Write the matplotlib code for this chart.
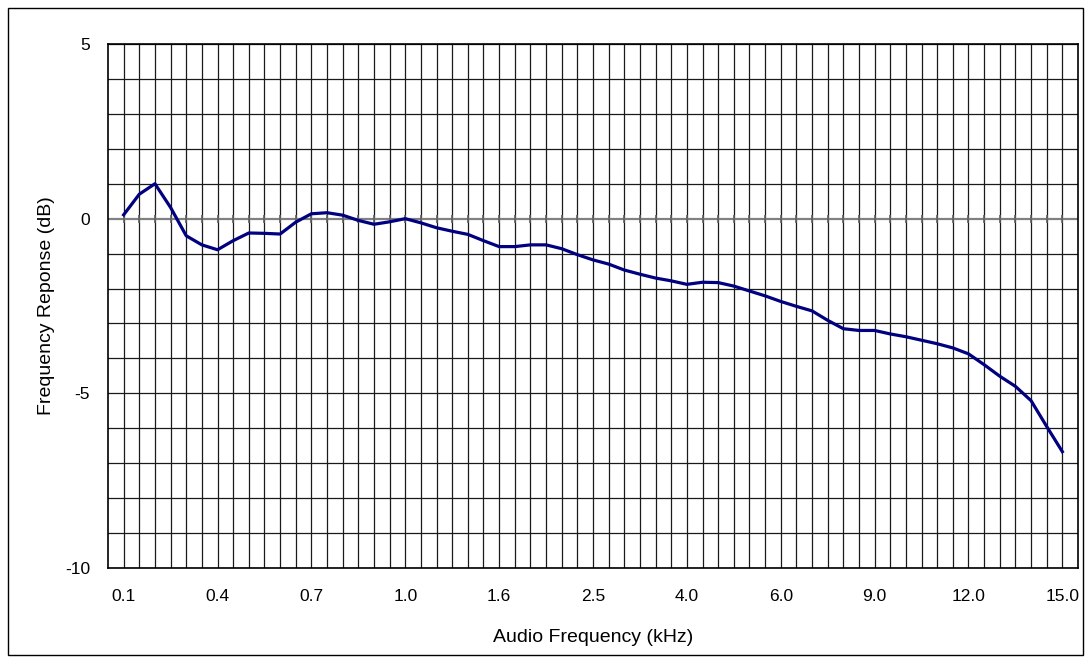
import matplotlib
matplotlib.use("Agg")
import matplotlib.pyplot as plt
from matplotlib.patches import Rectangle
from matplotlib.ticker import MultipleLocator, FixedLocator

plt.rcParams['font.family'] = ['Liberation Sans', 'DejaVu Sans']
plt.rcParams['axes.unicode_minus'] = False

# frequency points (kHz), categorical axis, label every 6th point
freq_khz = [0.10, 0.15, 0.20, 0.25, 0.30, 0.35, 0.40,
            0.45, 0.50, 0.55, 0.60, 0.65, 0.70,
            0.75, 0.80, 0.85, 0.90, 0.95, 1.00,
            1.10, 1.20, 1.30, 1.40, 1.50, 1.60,
            1.75, 1.90, 2.05, 2.20, 2.35, 2.50,
            2.75, 3.00, 3.25, 3.50, 3.75, 4.00,
            4.33, 4.67, 5.00, 5.33, 5.67, 6.00,
            6.50, 7.00, 7.50, 8.00, 8.50, 9.00,
            9.50, 10.0, 10.5, 11.0, 11.5, 12.0,
            12.5, 13.0, 13.5, 14.0, 14.5, 15.0]

# response (dB)
response_db = [0.11, 0.70, 1.00, 0.32, -0.49, -0.75, -0.89,
               -0.63, -0.41, -0.42, -0.44, -0.10, 0.14,
               0.17, 0.10, -0.05, -0.16, -0.09, 0.00,
               -0.12, -0.26, -0.36, -0.45, -0.63, -0.80,
               -0.80, -0.75, -0.75, -0.86, -1.03, -1.18,
               -1.30, -1.47, -1.59, -1.70, -1.78, -1.88,
               -1.82, -1.83, -1.93, -2.07, -2.21, -2.37,
               -2.51, -2.64, -2.91, -3.15, -3.20, -3.20,
               -3.30, -3.38, -3.48, -3.58, -3.70, -3.87,
               -4.18, -4.51, -4.80, -5.21, -5.95, -6.67]

label_step = 6
pos = list(range(len(freq_khz)))

fig = plt.figure(figsize=(10.85, 6.64), dpi=100)
ax = fig.add_axes([108 / 1085, 96 / 664, 970 / 1085, 524 / 664])

# outer chart border
fig.patches.append(Rectangle((8 / 1085, 9 / 664), 1075 / 1085, 647 / 664,
                             transform=fig.transFigure, fill=False,
                             edgecolor='black', linewidth=1.0))

ax.set_xlim(-1, len(freq_khz))
ax.set_ylim(-10, 5)

# grid
for p in pos:
    ax.axvline(p, color='#1a1a1a', linewidth=0.9, zorder=1)
for v in range(-10, 6):
    if v == 0:
        continue
    ax.axhline(v, color='#1a1a1a', linewidth=0.9, zorder=1)
ax.axhline(0, color='#808080', linewidth=1.6, zorder=2)
ax.plot(pos, [0] * len(pos), linestyle='none', marker='|', markersize=6,
        color='#606060', markeredgewidth=1.2, zorder=2)

ax.plot(pos, response_db, color='#000080', linewidth=2.3, zorder=3)

ax.xaxis.set_major_locator(FixedLocator(pos[::label_step]))
ax.set_xticklabels([f'{freq_khz[i]:.1f}' for i in pos[::label_step]])
ax.yaxis.set_major_locator(MultipleLocator(5))
ax.tick_params(axis='x', length=0, pad=15, labelsize=12.5)
ax.tick_params(axis='y', length=0, pad=13, labelsize=12.5)

for s in ax.spines.values():
    s.set_linewidth(1.2)
    s.set_color('black')

ax.set_xlabel('Audio Frequency (kHz)', fontsize=14, labelpad=18)
ax.set_ylabel('Frequency Reponse (dB)', fontsize=14, labelpad=7)

fig.savefig('out.png', dpi=100, facecolor='white')
